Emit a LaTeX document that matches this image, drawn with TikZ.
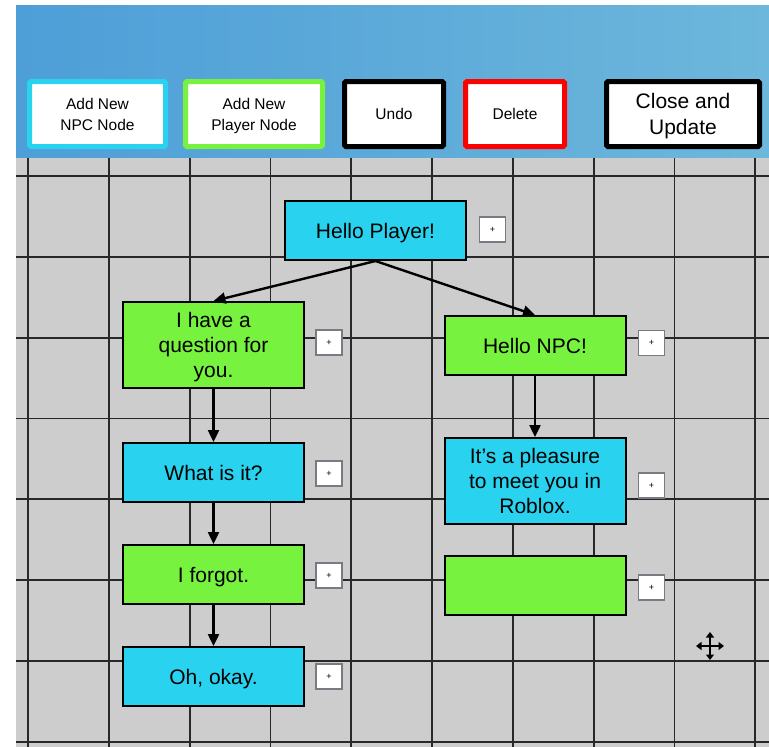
\documentclass[tikz,border=0pt]{standalone}
\usepackage{fontspec}
\setmainfont{Liberation Sans}
\usetikzlibrary{arrows.meta}
\definecolor{npcblue}{RGB}{41,211,240}
\definecolor{playergreen}{RGB}{119,242,63}
\definecolor{canvasgray}{RGB}{205,205,205}
\definecolor{barleft}{RGB}{78,158,216}
\definecolor{barright}{RGB}{108,183,219}
\definecolor{gridline}{RGB}{40,40,40}
\definecolor{plusedge}{RGB}{120,124,130}
\definecolor{deletered}{RGB}{255,0,0}

\begin{document}
\begin{tikzpicture}[x=1pt,y=-1pt,
  dialog/.style={draw=black, line width=2pt, minimum width=181pt, align=center,
                 inner sep=0pt, text depth=0pt, font=\fontsize{21}{25}\selectfont},
  npcnode/.style={dialog, fill=npcblue},
  playernode/.style={dialog, fill=playergreen},
  plusbox/.style={draw=plusedge, line width=1.3pt, fill=white, minimum width=26pt,
                  minimum height=25pt, inner sep=0pt, font=\fontsize{9}{9}\selectfont},
  toolbtn/.style={line width=5pt, fill=white, rounded corners=1.5pt, minimum height=65pt,
                  align=center, inner sep=0pt, text depth=0pt, font=\fontsize{15.5}{21}\selectfont},
  link/.style={line width=2.4pt, -{Triangle[length=12pt,width=11pt]}},
  movearrow/.style={line width=1.7pt, {Triangle[length=5.5pt,width=8pt]}-{Triangle[length=5.5pt,width=8pt]}}
]
% page, toolbar and canvas
\useasboundingbox (0,0) rectangle (769,747);
\fill[white] (0,0) rectangle (769,747);
\shade[left color=barleft, right color=barright] (16,5) rectangle (769,158);
\fill[canvasgray] (16,158) rectangle (769,747);

% canvas grid
\foreach \k in {0,...,9}
  \draw[gridline, line width=1.8pt] ({28+80.8*\k},158) -- ({28+80.8*\k},747);
\foreach \k in {0,...,7}
  \draw[gridline, line width=1.8pt] (16,{176+80.8*\k}) -- (769,{176+80.8*\k});

% toolbar buttons
\node[toolbtn, draw=npcblue, minimum width=136pt] (addnpc) at (97.5,114) {Add New\\NPC Node};
\node[toolbtn, draw=playergreen, minimum width=137pt] (addplayer) at (254,114) {Add New\\Player Node};
\node[toolbtn, draw=black, minimum width=99pt] (undo) at (394,114) {Undo};
\node[toolbtn, draw=deletered, minimum width=99pt] (delete) at (515,114) {Delete};
\node[toolbtn, draw=black, minimum width=153pt, font=\fontsize{21}{26}\selectfont] (close) at (683,114) {Close and\\Update};

% dialogue nodes
\node[npcnode, minimum height=59pt] (hp) at (375.5,230.5) {Hello Player!};
\node[playernode, minimum height=86pt] (q) at (213.5,345) {I have a\\question for\\you.};
\node[playernode, minimum height=59pt] (npc) at (535,345.5) {Hello NPC!};
\node[npcnode, minimum height=59pt] (w) at (213.5,472.5) {What is it?};
\node[npcnode, minimum height=86pt] (pl) at (535,481) {It’s a pleasure\\to meet you in\\Roblox.};
\node[playernode, minimum height=59pt] (f) at (213.5,574.5) {I forgot.};
\node[playernode, minimum height=59pt] (e) at (535,585.5) {};
\node[npcnode, minimum height=59pt] (ok) at (213.5,676.5) {Oh, okay.};

% add-child buttons
\node[plusbox] (hpplus) at (492.5,229.5) {+};
\node[plusbox] (qplus) at (329,342.5) {+};
\node[plusbox] (npcplus) at (651.5,343) {+};
\node[plusbox] (wplus) at (329,473.5) {+};
\node[plusbox] (plplus) at (651.5,485.5) {+};
\node[plusbox] (fplus) at (329,575.5) {+};
\node[plusbox] (eplus) at (651.5,587.5) {+};
\node[plusbox] (okplus) at (329,676.5) {+};

% links
\draw[link] (hp.south) -- (q.north);
\draw[link] (hp.south) -- (npc.north);
\draw[link] (q.south) -- (w.north);
\draw[link] (w.south) -- (f.north);
\draw[link] (f.south) -- (ok.north);
\draw[link] (npc.south) -- (pl.north);

% move handle
\coordinate (mvl) at (696,646);
\coordinate (mvr) at (724,646);
\coordinate (mvt) at (710,632);
\coordinate (mvb) at (710,660);
\draw[movearrow] (mvl) -- (mvr);
\draw[movearrow] (mvt) -- (mvb);
\end{tikzpicture}
\end{document}
